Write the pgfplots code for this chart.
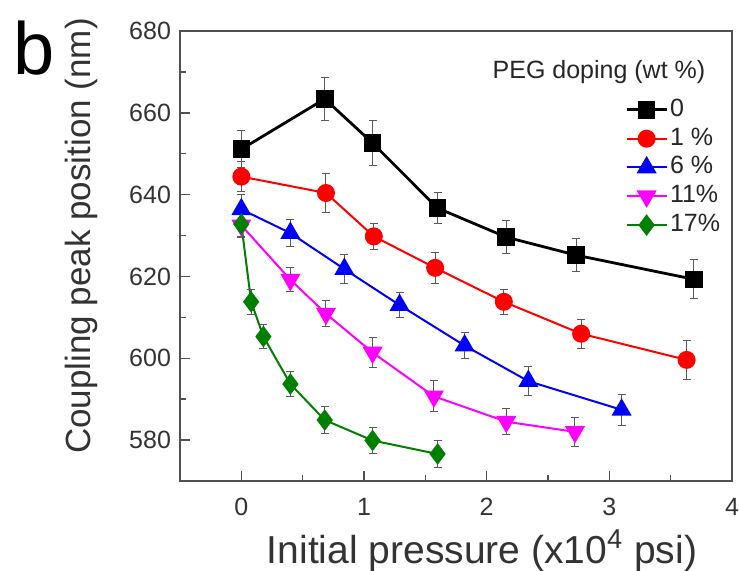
\documentclass[border=0pt]{standalone}
\usepackage{pgfplots}
\pgfplotsset{compat=1.18}
\usepackage{fontspec}
\setmainfont{Liberation Sans}
\definecolor{cgreen}{RGB}{0,128,0}
\definecolor{cmag}{RGB}{255,0,255}
\definecolor{cred}{RGB}{255,0,0}
\definecolor{cblue}{RGB}{0,0,255}
\definecolor{cframe}{RGB}{80,80,80}
\pgfplotsset{myleg/.style={legend image code/.code={\draw[mark repeat=2, mark phase=2, ##1] plot coordinates {(0pt,0pt) (10pt,0pt) (20pt,0pt)};}}}
\begin{document}
\begin{tikzpicture}
\begin{axis}[
  scale only axis, width=276pt, height=225pt,
  at={(0,0)}, anchor=south west,
  xmin=-0.5, xmax=4, ymin=570, ymax=680,
  xtick={0,1,2,3,4}, ytick={580,600,620,640,660,680},
  minor x tick num=1, minor y tick num=1,
  tick pos=left, tick align=inside,
  major tick length=5pt, minor tick length=3pt,
  axis line style={cframe, line width=0.9pt},
  every tick/.style={cframe, line width=0.7pt},
  /pgf/number format/assume math mode=true,
  /pgf/number format/.cd, 1000 sep={}, /pgfplots/.cd,
  ticklabel style={font=\fontsize{12.5}{14}\selectfont, text=black!80},
  xticklabel style={yshift=-5pt},
  yticklabel style={xshift=-1pt},
  xlabel={Initial pressure (x10\textsuperscript{4} psi)},
  ylabel={Coupling peak position (nm)},
  xlabel style={font=\fontsize{19.5}{22}\selectfont, text=black!80, xshift=13pt, yshift=0pt},
  ylabel style={font=\fontsize{17.5}{20}\selectfont, text=black!80, xshift=10pt, yshift=9pt},
  clip=false,
  legend cell align=left,
  legend style={draw=none, fill=none, at={(rel axis cs:0.795,0.86)}, anchor=north west,
    font=\fontsize{12.5}{14}\selectfont, row sep=2.9pt,
    nodes={inner xsep=1pt, inner ysep=0pt, text height=9pt, text depth=2.5pt, text=black!85}},
  myleg,
  error bars/y dir=both, error bars/y explicit,
  error bars/error bar style={gray!70!black, line width=0.5pt},
  error bars/error mark options={rotate=90, mark size=2pt, gray!70!black, line width=0.5pt},
]
\addplot[black, line width=1.4pt, mark=square*, mark size=3.7pt, mark options={fill=black}]
  table[x=x, y=y, y error=e] {
x y e
0 651.1 4.5
0.68 663.4 5.2
1.07 652.6 5.4
1.60 636.7 3.8
2.16 629.6 4.0
2.73 625.2 4.0
3.69 619.3 4.8
};
\addlegendentry{0}
\addplot[cred, line width=1pt, mark=*, mark size=4pt, mark options={fill=cred}]
  table[x=x, y=y, y error=e] {
x y e
0 644.4 3.6
0.69 640.4 4.7
1.08 629.8 3.2
1.58 622.1 3.8
2.14 613.8 3.0
2.77 606.0 3.5
3.63 599.6 4.8
};
\addlegendentry{1 \%}
\addplot[cblue, line width=1pt, mark=triangle*, mark size=4.8pt, mark options={fill=cblue}]
  table[x=x, y=y, y error=e] {
x y e
0 636.4 3.6
0.40 630.6 3.2
0.84 621.8 3.6
1.29 613.0 3.0
1.82 603.1 3.2
2.34 594.4 3.6
3.10 587.4 3.8
};
\addlegendentry{6 \%}
\addplot[cmag, line width=1pt, mark=triangle*, mark size=4.8pt, mark options={fill=cmag, rotate=180}]
  table[x=x, y=y, y error=e] {
x y e
0 632.5 3.0
0.40 619.2 3.0
0.69 610.9 3.2
1.07 601.4 3.6
1.57 590.7 3.8
2.16 584.5 3.2
2.72 582.0 3.6
};
\addlegendentry{11\%}
\addplot[cgreen, line width=1pt, mark=diamond*, mark size=4.6pt, mark options={fill=cgreen}]
  table[x=x, y=y, y error=e] {
x y e
0 632.8 3.0
0.08 613.8 3.0
0.18 605.3 3.0
0.40 593.7 3.0
0.68 584.9 3.2
1.07 579.9 3.2
1.60 576.6 3.4
};
\addlegendentry{17\%}
\node[font=\fontsize{12.5}{14}\selectfont, text=black!85] at (rel axis cs:0.759,0.909) {PEG doping (wt \%)};
\end{axis}
\node[font=\fontsize{37}{40}\selectfont] at (-73pt,216.5pt) {b};
\pgfresetboundingbox
\path (-90pt,-45pt) rectangle (280pt,240.5pt);
\end{tikzpicture}
\end{document}
